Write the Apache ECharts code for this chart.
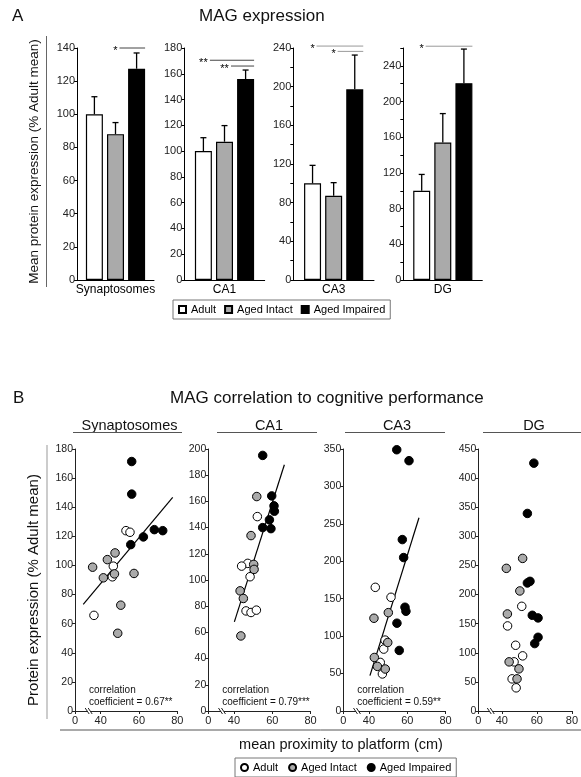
<!DOCTYPE html>
<html><head><meta charset="utf-8">
<script src="https://cdn.jsdelivr.net/npm/echarts@6/dist/echarts.min.js"></script>
<style>html,body{margin:0;padding:0;background:#fff}#c{width:581px;height:777px}</style>
</head><body><div id="c"></div>
<script>
const FONT = 'Liberation Sans, Arial, sans-serif';
const regions = ['Synaptosomes', 'CA1', 'CA3', 'DG'];
const groups = ['Adult', 'Aged Intact', 'Aged Impaired'];
const groupColors = ['#ffffff', '#aaaaaa', '#000000'];

// ---- Panel A: mean protein expression (% Adult mean) ----
const adultMean = [100, 100, 100, 100];
const adultErr = [10.6, 10.4, 18.6, 18.3];
const intactMean = [88, 107.3, 87.2, 154];
const intactErr = [7, 12.5, 13.5, 32.5];
const impairedMean = [127.5, 155.9, 197.2, 220.6];
const impairedErr = [9.5, 7, 35.5, 38.2];
const barYMax = [140, 180, 240, 260];
const barYLabelStep = [20, 20, 40, 40];

// significance brackets
const sigRegion = ['Synaptosomes', 'CA1', 'CA1', 'CA3', 'CA3', 'DG'];
const sigFrom = [1, 0, 1, 0, 1, 0];
const sigTo = [2, 2, 2, 2, 2, 2];
const sigLevel = [140, 170.5, 166, 242, 236.5, 262];
const sigLabel = ['*', '**', '**', '*', '*', '*'];

// ---- Panel B: correlation to mean proximity (cm) ----
const synAdult = [[53.2,123.9],[55.3,122.8],[46.6,99.5],[36.5,65.7],[46.1,92.2]];
const synIntact = [[35.8,98.8],[41.4,91.5],[43.5,104],[47.5,108.6],[47.2,94.2],[57.4,94.5],[50.5,72.7],[48.9,53.4]];
const synImpaired = [[56.2,171.4],[56.2,149],[55.7,114.3],[62.3,119.6],[68.0,124.6],[72.4,123.9]];
const synReg = [[30.9,73.2],[77.6,146.7]];

const ca1Adult = [[52.2,148.4],[47.2,112.7],[44.0,110.6],[48.4,102.5],[46.3,76.4],[48.9,75.2],[51.7,77.0]];
const ca1Intact = [[51.9,163.7],[48.9,133.9],[50.3,111.9],[50.5,108.1],[43.2,91.7],[44.9,85.9],[43.6,57.3]];
const ca1Impaired = [[55.0,195.1],[59.7,164.2],[60.9,156.6],[61.1,152.5],[58.5,145.9],[55.0,140.0],[59.3,139.2]];
const ca1Reg = [[40.2,68],[66.3,188]];

const ca3Adult = [[43.3,165.2],[51.5,151.9],[48.4,94.7],[47.7,82.7],[45.9,64.9],[47.0,49.5]];
const ca3Intact = [[42.6,123.9],[50.1,131.4],[49.8,91.5],[42.8,71.5],[44.4,59.6],[48.5,56.1]];
const ca3Impaired = [[54.5,349],[60.9,334.4],[57.4,229],[58.1,205],[58.8,138.6],[59.3,133.2],[54.6,117.3],[55.8,80.9]];
const ca3Reg = [[40.5,47.2],[66.1,258.2]];

const dgAdult = [[51.4,179.8],[43.3,146.1],[47.9,112.9],[51.9,94.7],[47.0,84.4],[45.9,55.2],[48.2,39.8]];
const dgIntact = [[42.6,245],[51.9,262.1],[50.3,206.2],[43.2,166.7],[44.2,84.4],[49.8,72.4],[48.7,55.2]];
const dgImpaired = [[58.3,425.7],[54.6,339.3],[54.6,219.9],[56.1,222.7],[57.4,164.4],[60.7,159.9],[60.7,126.6],[58.8,115.8]];

const scatterYMax = [180, 200, 350, 450];
const scatterYInterval = [20, 20, 50, 50];
const xAxisMin = 26.6;          // broken axis: drawn as "0"
const xAxisMax = 80;
const xTickValues = [26.6, 40, 60, 80];
const xBreakAt = 34;
const corrCoef = ['0.67**', '0.79***', '0.59**', null];

// ---- layout (pixels) ----
const topGridLeft = [77, 184.3, 293.3, 403.3];
const topGridWidth = [77, 80.4, 80.7, 79];
const botGridLeft = [75, 208.3, 343.3, 478.3];
const BAR_W = 17, BAR_GAP = 4.1, PITCH = BAR_W + BAR_GAP;
const sigStroke = {Synaptosomes: '#444', CA1: '#444', CA3: '#999', DG: '#999'};

const scatterSets = [
  [synAdult, synIntact, synImpaired],
  [ca1Adult, ca1Intact, ca1Impaired],
  [ca3Adult, ca3Intact, ca3Impaired],
  [dgAdult, dgIntact, dgImpaired]
];
const regLines = [synReg, ca1Reg, ca3Reg, null];
const means = [adultMean, intactMean, impairedMean];
const errs = [adultErr, intactErr, impairedErr];

const grid = [], xAxis = [], yAxis = [], series = [];

regions.forEach((r, i) => {
  grid.push({left: topGridLeft[i], top: 48, width: topGridWidth[i], height: 232});
  xAxis.push({type: 'category', gridIndex: i, data: [r],
    axisLine: {lineStyle: {color: '#000', width: 1}}, axisTick: {show: false},
    axisLabel: {fontSize: 12, margin: 4, color: '#000', fontFamily: FONT}});
  yAxis.push({type: 'value', gridIndex: i, min: 0, max: barYMax[i], interval: 20,
    splitLine: {show: false},
    axisLine: {show: true, lineStyle: {color: '#000', width: 1}},
    axisTick: {show: true, length: 3, lineStyle: {color: '#000'}},
    axisLabel: {fontSize: 11, margin: 2, color: '#222', fontFamily: FONT, showMinLabel: true, showMaxLabel: true,
      formatter: v => (v % barYLabelStep[i] === 0 ? String(v) : '')}});
});
regions.forEach((r, i) => {
  grid.push({left: botGridLeft[i], top: 449, width: 102.3, height: 262});
  xAxis.push({type: 'value', gridIndex: 4 + i, min: xAxisMin, max: xAxisMax,
    splitLine: {show: false},
    axisLine: {lineStyle: {color: '#222', width: 1}},
    axisTick: {show: true, length: 3, customValues: xTickValues, lineStyle: {color: '#222'}},
    axisLabel: {fontSize: 11, margin: 4, color: '#222', fontFamily: FONT, customValues: xTickValues,
      formatter: v => (Math.abs(v - xAxisMin) < 0.01 ? '0' : String(v))}});
  yAxis.push({type: 'value', gridIndex: 4 + i, min: 0, max: scatterYMax[i], interval: scatterYInterval[i],
    splitLine: {show: false},
    axisLine: {show: true, lineStyle: {color: '#222', width: 1}},
    axisTick: {show: true, length: 3, lineStyle: {color: '#222'}},
    axisLabel: {fontSize: 10.5, margin: 2, color: '#222', fontFamily: FONT, showMinLabel: true, showMaxLabel: true}});
});

// bars
regions.forEach((r, i) => {
  groups.forEach((g, k) => {
    series.push({type: 'bar', name: g, xAxisIndex: i, yAxisIndex: i, data: [means[k][i]],
      barWidth: BAR_W, barGap: (BAR_GAP / BAR_W * 100) + '%',
      itemStyle: {color: groupColors[k], borderColor: '#000', borderWidth: 1.2},
      emphasis: {disabled: true}, z: 2});
  });
});
// error bars
regions.forEach((r, i) => {
  series.push({type: 'custom', xAxisIndex: i, yAxisIndex: i, z: 3, silent: true,
    data: groups.map((g, k) => [0, means[k][i], errs[k][i], k]),
    renderItem: (params, api) => {
      const m = api.value(1), e = api.value(2), k = api.value(3);
      const b = api.coord([0, m]), t = api.coord([0, m + e]);
      const x = b[0] + (k - 1) * PITCH;
      return {type: 'group', children: [
        {type: 'line', shape: {x1: x, y1: b[1], x2: x, y2: t[1]}, style: {stroke: '#000', lineWidth: 1.3}},
        {type: 'line', shape: {x1: x - 3, y1: t[1], x2: x + 3, y2: t[1]}, style: {stroke: '#000', lineWidth: 1.3}}
      ]};
    }});
});
// significance brackets
regions.forEach((r, i) => {
  const items = [];
  sigRegion.forEach((sr, j) => { if (sr === r) items.push([0, sigLevel[j], sigFrom[j], sigTo[j], j]); });
  if (!items.length) return;
  series.push({type: 'custom', xAxisIndex: i, yAxisIndex: i, z: 4, silent: true, clip: false,
    data: items,
    renderItem: (params, api) => {
      const c = api.coord([0, api.value(1)]);
      const xf = c[0] + (api.value(2) - 1) * PITCH;
      const xt = c[0] + (api.value(3) - 1) * PITCH + BAR_W / 2;
      const lab = sigLabel[api.value(4)];
      const w = lab.length * 5;
      return {type: 'group', children: [
        {type: 'line', shape: {x1: xf + w / 2 + 1.5, y1: c[1], x2: xt, y2: c[1]}, style: {stroke: sigStroke[r], lineWidth: 1}},
        {type: 'text', x: xf, y: c[1] + 3, style: {text: lab, fontSize: 11, fontFamily: FONT, fill: '#000', align: 'center', verticalAlign: 'middle'}}
      ]};
    }});
});
// scatter
regions.forEach((r, i) => {
  groups.forEach((g, k) => {
    series.push({type: 'scatter', name: g, xAxisIndex: 4 + i, yAxisIndex: 4 + i, data: scatterSets[i][k],
      symbol: 'circle', symbolSize: 8.5,
      itemStyle: {color: groupColors[k], borderColor: '#000', borderWidth: 1, opacity: 1},
      emphasis: {disabled: true}, z: 3 + k});
  });
  if (regLines[i]) {
    series.push({type: 'line', xAxisIndex: 4 + i, yAxisIndex: 4 + i, data: regLines[i],
      symbol: 'none', silent: true, z: 2, lineStyle: {color: '#000', width: 1.2}});
  }
  series.push({type: 'custom', xAxisIndex: 4 + i, yAxisIndex: 4 + i, z: 5, silent: true, clip: false,
    data: [[xBreakAt, 0]],
    renderItem: (params, api) => {
      const c = api.coord([api.value(0), api.value(1)]);
      return {type: 'group', children: [
        {type: 'rect', shape: {x: c[0] - 1.5, y: c[1] - 1, width: 3, height: 2}, style: {fill: '#fff'}},
        {type: 'line', shape: {x1: c[0] - 4, y1: c[1] - 3, x2: c[0], y2: c[1] + 3}, style: {stroke: '#222', lineWidth: 1}},
        {type: 'line', shape: {x1: c[0] - 1, y1: c[1] - 3, x2: c[0] + 3, y2: c[1] + 3}, style: {stroke: '#222', lineWidth: 1}}
      ]};
    }});
});

// annotations (text and decorative lines)
const graphic = [];
function T(x, y, text, size, align) {
  graphic.push({type: 'text', x: x, y: y, silent: true,
    style: {text: text, fontSize: size, fontFamily: FONT, fill: '#111', align: align || 'left', verticalAlign: 'middle'}});
}
function L(x1, y1, x2, y2, color, w) {
  graphic.push({type: 'line', silent: true, shape: {x1, y1, x2, y2}, style: {stroke: color, lineWidth: w || 1}});
}
T(12, 16, 'A', 17);
T(199, 16, 'MAG expression', 17);
graphic.push({type: 'text', x: 34, y: 161.5, rotation: Math.PI / 2, silent: true,
  style: {text: 'Mean protein expression (% Adult mean)', fontSize: 13.5, fontFamily: FONT, fill: '#111', align: 'center', verticalAlign: 'middle'}});
L(46.5, 36, 46.5, 287, '#666', 1);

T(13, 398, 'B', 17);
T(170, 398, 'MAG correlation to cognitive performance', 17);
const headLeft = [73, 217, 345, 483], headRight = [182, 317, 445, 581];
regions.forEach((r, i) => {
  T((headLeft[i] + headRight[i]) / 2 + 2, 426, r, 14.5, 'center');
  L(headLeft[i], 432.5, headRight[i], 432.5, '#555', 1);
  if (corrCoef[i]) {
    T(botGridLeft[i] + 14, 690, 'correlation', 10);
    T(botGridLeft[i] + 14, 702, 'coefficient = ' + corrCoef[i], 10);
  }
});
graphic.push({type: 'text', x: 34, y: 590, rotation: Math.PI / 2, silent: true,
  style: {text: 'Protein expression (% Adult mean)', fontSize: 15, fontFamily: FONT, fill: '#111', align: 'center', verticalAlign: 'middle'}});
L(47, 445, 47, 719, '#999', 1);
L(60, 730, 581, 730, '#555', 1);
T(341, 745, 'mean proximity to platform (cm)', 14.5, 'center');

const legendCommon = {data: groups, orient: 'horizontal', selectedMode: false,
  borderColor: '#777', borderWidth: 1, borderRadius: 0, backgroundColor: '#fff',
  textStyle: {fontSize: 11, fontFamily: FONT, color: '#000'}};

const option = {
  animation: false,
  backgroundColor: '#fff',
  textStyle: {fontFamily: FONT},
  grid: grid, xAxis: xAxis, yAxis: yAxis, series: series,
  legend: [
    Object.assign({}, legendCommon, {left: 173, top: 300, icon: 'rect', itemWidth: 7, itemHeight: 7, itemGap: 8, padding: [4, 5]}),
    Object.assign({}, legendCommon, {left: 235, top: 758, icon: 'circle', itemWidth: 7, itemHeight: 7, itemGap: 10, padding: [4, 5]})
  ],
  graphic: graphic
};
const chart = echarts.init(document.getElementById('c'), null, {renderer: 'canvas'});
chart.setOption(option);
</script></body></html>
